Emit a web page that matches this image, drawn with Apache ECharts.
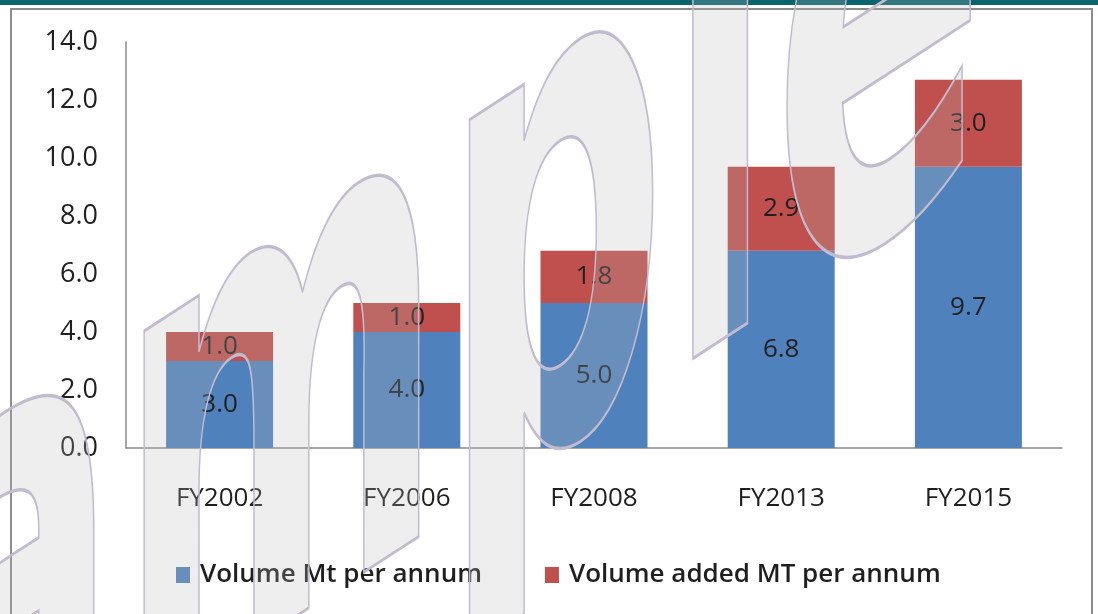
<!DOCTYPE html>
<html>
<head>
<meta charset="utf-8">
<script src="https://cdn.jsdelivr.net/npm/echarts@6/dist/echarts.min.js"></script>
<style>
  html, body { margin: 0; padding: 0; background: #ffffff; }
  #chart { width: 1098px; height: 614px; }
</style>
</head>
<body>
<div id="chart"></div>
<script>
// Capacity by fiscal year, stacked: base volume plus volume added
const categories = ['FY2002', 'FY2006', 'FY2008', 'FY2013', 'FY2015'];
const volume = [3.0, 4.0, 5.0, 6.8, 9.7];
const volumeAdded = [1.0, 1.0, 1.8, 2.9, 3.0];
const seriesNames = ['Volume Mt per annum', 'Volume added MT per annum'];
const watermarkText = 'Sample';

const FONT = '"Open Sans", "Liberation Sans", sans-serif';
const TEXT = '#1f1f1f';
const AXIS = '#8a8a8a';

const chart = echarts.init(document.getElementById('chart'), null, { renderer: 'canvas' });

const barLabel = {
  show: true,
  position: 'inside',
  color: TEXT,
  fontFamily: FONT,
  fontSize: 26,
  formatter: p => Number(p.value).toFixed(1)
};

chart.setOption({
  animation: false,
  backgroundColor: '#ffffff',
  grid: { left: 126, right: 36, top: 42, bottom: 166 },
  legend: {
    left: 171,
    top: 557,
    itemWidth: 14,
    itemHeight: 16,
    itemGap: 63,
    icon: 'rect',
    textStyle: {
      color: TEXT,
      fontFamily: FONT,
      fontSize: 26,
      fontWeight: 600,
      padding: [0, 0, 0, 5]
    },
    data: seriesNames
  },
  xAxis: {
    type: 'category',
    data: categories,
    axisLine: { show: true, lineStyle: { color: AXIS, width: 1.5 } },
    axisTick: { show: false },
    axisLabel: { color: TEXT, fontFamily: FONT, fontSize: 26, margin: 38 }
  },
  yAxis: {
    type: 'value',
    min: 0,
    max: 14,
    interval: 2,
    axisLine: { show: true, lineStyle: { color: AXIS, width: 1.5 } },
    axisTick: { show: false },
    splitLine: { show: false },
    axisLabel: {
      color: TEXT,
      fontFamily: FONT,
      fontSize: 27,
      margin: 28,
      formatter: v => v.toFixed(1)
    }
  },
  series: [
    {
      name: seriesNames[0],
      type: 'bar',
      stack: 'total',
      barWidth: 107,
      itemStyle: { color: '#4f81bd' },
      label: barLabel,
      data: volume
    },
    {
      name: seriesNames[1],
      type: 'bar',
      stack: 'total',
      barWidth: 107,
      itemStyle: { color: '#c0504d' },
      label: barLabel,
      data: volumeAdded
    }
  ],
  graphic: [
    // header band and frame
    {
      type: 'rect',
      z: 10,
      shape: { x: 0, y: 0, width: 1098, height: 5 },
      style: { fill: '#0a6570' }
    },
    {
      type: 'polyline',
      z: 10,
      shape: { points: [[11, 620], [11, 9], [1092, 9], [1092, 620]] },
      style: { stroke: '#8c8c8c', lineWidth: 2, fill: null }
    },
    // large translucent watermark lettering, sheared upward to the right
    {
      type: 'text',
      z: 100,
      x: -317,
      y: 832,
      scaleX: 1,
      scaleY: 2.25,
      skewY: 0.576,
      style: {
        text: watermarkText,
        fontFamily: '"DejaVu Sans", sans-serif',
        fontWeight: 'bold',
        fontSize: 312,
        verticalAlign: 'middle',
        align: 'left',
        fill: 'rgba(185,185,185,0.24)',
        stroke: '#c3bcd3',
        lineWidth: 1.5,
        strokeNoScale: true
      }
    }
  ]
});
</script>
</body>
</html>
